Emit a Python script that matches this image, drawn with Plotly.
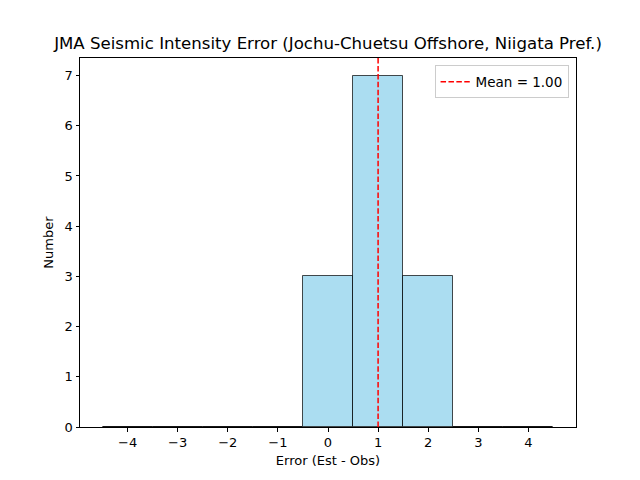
import plotly.graph_objects as go

bin_centers = [-4, -3, -2, -1, 0, 1, 2, 3, 4]
counts = [0, 0, 0, 0, 3, 7, 3, 0, 0]
mean_value = 1.00
x_ticks = [-4, -3, -2, -1, 0, 1, 2, 3, 4]
y_ticks = [0, 1, 2, 3, 4, 5, 6, 7]

fig = go.Figure()
fig.add_trace(go.Bar(
    x=bin_centers, y=counts, width=1,
    marker=dict(color="rgba(135,206,235,0.7)", line=dict(color="rgba(0,0,0,0.7)", width=1)),
    showlegend=False,
))
fig.add_trace(go.Scatter(
    x=[mean_value, mean_value], y=[0, 7.35], mode="lines",
    line=dict(color="red", dash="5.5px,2.4px", width=1.5),
    name=f"Mean = {mean_value:.2f}",
))

axis_common = dict(
    showgrid=False, zeroline=False, showline=True, linecolor="black", linewidth=1,
    mirror=True, ticks="outside", ticklen=3.5, tickcolor="black",
    tickfont=dict(size=13, color="black"), automargin=False,
)
fig.update_layout(
    width=640, height=480,
    margin=dict(l=72, r=72, t=50, b=61),
    paper_bgcolor="white", plot_bgcolor="white",
    font=dict(family="DejaVu Sans", color="black", size=13),
    title=dict(text="JMA Seismic Intensity Error (Jochu-Chuetsu Offshore, Niigata Pref.)",
               x=0.5, xref="paper", y=1 - 35/480, yanchor="middle", font=dict(size=16.6)),
    xaxis=dict(range=[-4.95, 4.95], tickvals=x_ticks, ticktext=[str(t).replace("-", "−") for t in x_ticks],
               title=dict(text="Error (Est - Obs)", standoff=6, font=dict(size=13)), **axis_common),
    yaxis=dict(range=[0, 7.35], tickvals=y_ticks,
               title=dict(text="Number", standoff=8, font=dict(size=13)), **axis_common),
    legend=dict(x=0.985, y=0.98, xanchor="right", yanchor="top",
                bordercolor="rgba(0,0,0,0.2)", borderwidth=1, bgcolor="rgba(255,255,255,0.8)",
                font=dict(size=13.5)),
    bargap=0,
)
fig.write_html("out.html")
